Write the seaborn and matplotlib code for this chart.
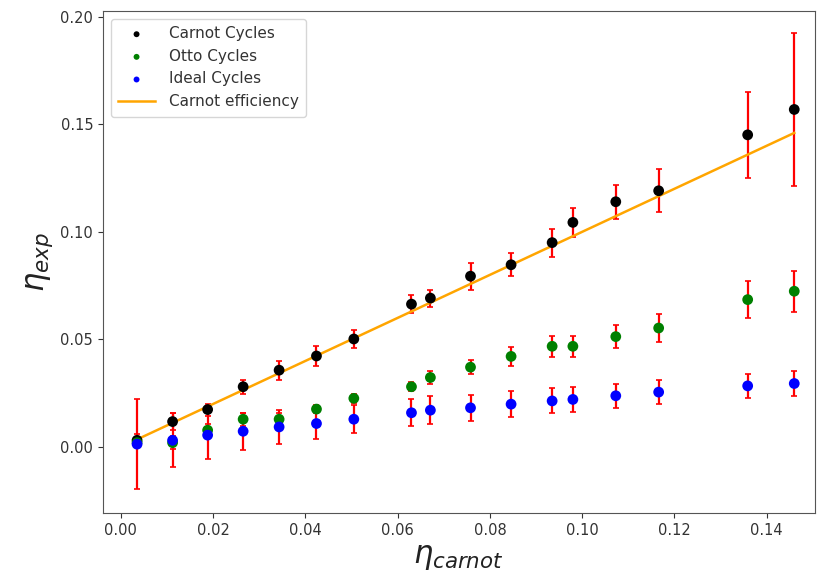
import matplotlib
matplotlib.use("Agg")
import matplotlib.pyplot as plt
import numpy as np
import pandas as pd
import seaborn as sns

# Carnot efficiency of each run (x axis)
eta_carnot = [0.0035, 0.0112, 0.0188, 0.0265, 0.0343, 0.0424, 0.0505, 0.0630,
              0.0671, 0.0758, 0.0846, 0.0935, 0.0980, 0.1073, 0.1166, 0.1359, 0.1460]

# Measured efficiencies and their uncertainties
carnot_eff = [0.0031, 0.0118, 0.0174, 0.0280, 0.0357, 0.0423, 0.0502, 0.0664,
              0.0692, 0.0794, 0.0847, 0.0950, 0.1044, 0.1140, 0.1191, 0.1451, 0.1569]
carnot_err = [0.0030, 0.0040, 0.0028, 0.0033, 0.0044, 0.0047, 0.0042, 0.0043,
              0.0040, 0.0062, 0.0054, 0.0065, 0.0068, 0.0078, 0.0100, 0.0201, 0.0354]

otto_eff = [0.0020, 0.0020, 0.0078, 0.0129, 0.0129, 0.0176, 0.0226, 0.0280,
            0.0323, 0.0371, 0.0421, 0.0468, 0.0468, 0.0513, 0.0553, 0.0685, 0.0724]
otto_err = [0.0020, 0.0030, 0.0030, 0.0030, 0.0030, 0.0020, 0.0020, 0.0020,
            0.0030, 0.0031, 0.0043, 0.0048, 0.0048, 0.0054, 0.0066, 0.0085, 0.0095]

ideal_eff = [0.0013, 0.0031, 0.0055, 0.0073, 0.0093, 0.0109, 0.0129, 0.0159,
             0.0171, 0.0182, 0.0199, 0.0214, 0.0221, 0.0238, 0.0255, 0.0284, 0.0295]
ideal_err = [0.0208, 0.0126, 0.0110, 0.0087, 0.0079, 0.0070, 0.0066, 0.0063,
             0.0066, 0.0060, 0.0060, 0.0058, 0.0060, 0.0057, 0.0055, 0.0056, 0.0056]

series = [
    ("Carnot Cycles", carnot_eff, carnot_err, "black"),
    ("Otto Cycles", otto_eff, otto_err, "green"),
    ("Ideal Cycles", ideal_eff, ideal_err, "blue"),
]

fig = plt.figure(figsize=(8.17, 5.76), dpi=100)
ax = fig.add_axes([0.126, 0.109, 0.871, 0.872])

for label, eff, err, color in series:
    ax.errorbar(eta_carnot, eff, yerr=err, fmt="none", ecolor="red",
                elinewidth=1.6, capsize=2.2, capthick=1.2, zorder=2)

for label, eff, err, color in series:
    df = pd.DataFrame({"x": eta_carnot, "y": eff})
    sns.scatterplot(data=df, x="x", y="y", ax=ax, color=color, s=60,
                    edgecolor="none", label=label, zorder=4)

line_df = pd.DataFrame({"x": eta_carnot, "y": eta_carnot})
sns.lineplot(data=line_df, x="x", y="y", ax=ax, color="orange", lw=1.8,
             label="Carnot efficiency", zorder=3)

ax.set_xlim(-0.0039, 0.1504)
ax.set_ylim(-0.0308, 0.2027)
ax.set_xticks(np.arange(0, 0.141, 0.02))
ax.set_yticks(np.arange(0, 0.201, 0.05))
ax.tick_params(labelsize=10.5, colors="#333333")
for s in ax.spines.values():
    s.set_color("#555555")

ax.set_xlabel(r"$\eta_{carnot}$", fontsize=22, color="#222222")
ax.set_ylabel(r"$\eta_{exp}$", fontsize=22, color="#222222")

leg = ax.legend(loc="upper left", fontsize=11, markerscale=0.55,
                handlelength=2.4, handletextpad=0.9, borderpad=0.5)
for t in leg.get_texts():
    t.set_color("#333333")

fig.savefig("out.png", dpi=100)
